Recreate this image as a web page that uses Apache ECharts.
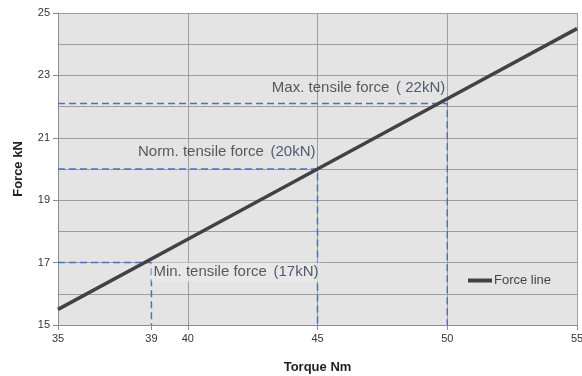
<!DOCTYPE html>
<html><head><meta charset="utf-8">
<script src="https://cdn.jsdelivr.net/npm/echarts@6/dist/echarts.min.js"></script>
<style>html,body{margin:0;padding:0;background:#fff}#c{width:582px;height:376px}</style>
</head><body><div id="c"></div>
<script>
const torque = [35, 40, 45, 50, 55];
const force = [15.5, 17.75, 20, 22.25, 24.5];
const xTickValues = [35, 38.6, 40, 45, 50, 55];
const xTickLabels = ['35', '39', '40', '45', '50', '55'];
const yTickLabels = [15, 17, 19, 21, 23, 25];
const minPath = [[35, 17], [38.6, 17], [38.6, 15]];
const normPath = [[35, 20], [45, 20], [45, 15]];
const maxPath = [[35, 22.1], [50, 22.1], [50, 15]];
const labelNames = ['Min. tensile force', 'Norm. tensile force', 'Max. tensile force'];
const labelValues = ['(17kN)', '(20kN)', '( 22kN)'];
const labelAnchors = [[38.6, 16.7], [45, 20.55], [50, 22.6]];

const FONT = '"Liberation Sans", Arial, sans-serif';
const chart = echarts.init(document.getElementById('c'));
const dashStyle = {color: '#4a72c2', width: 1.5, type: [7, 4]};
function dashSeries(path) {
  return {type: 'line', data: path, symbol: 'none', silent: true, lineStyle: dashStyle, z: 3, animation: false};
}
function labelSeries(i) {
  const right = i !== 0;
  return {
    type: 'scatter', symbolSize: 0, silent: true, z: 6, animation: false,
    data: [labelAnchors[i]],
    label: {
      show: true, position: right ? 'left' : 'right', distance: 0,
      formatter: '{a|' + labelNames[i] + '}  {b|' + labelValues[i] + '}',
      backgroundColor: i === 0 ? '#e9e9e9' : 'transparent',
      padding: [2, 2],
      rich: {
        a: {fontFamily: FONT, fontSize: 15, color: '#333'},
        b: {fontFamily: FONT, fontSize: 15, color: '#2b3550'}
      }
    }
  };
}
chart.setOption({
  animation: false,
  grid: {left: 58, right: 5, top: 13, bottom: 51, show: true, backgroundColor: '#e4e4e4', borderWidth: 0,
    outerBoundsMode: 'none', containLabel: false},
  legend: {
    data: ['Force line'], left: 468, top: 274, itemWidth: 24, itemHeight: 4, itemGap: 0, padding: 0,
    icon: 'rect',
    textStyle: {fontFamily: FONT, fontSize: 13, color: '#444', padding: [0, 0, 0, -3]}
  },
  xAxis: [{
    type: 'value', min: 35, max: 55, interval: 5,
    axisLine: {show: true, lineStyle: {color: '#8c8c8c', width: 1}},
    axisTick: {show: false}, axisLabel: {show: false},
    splitLine: {show: true, lineStyle: {color: '#9e9e9e', width: 1}},
    name: 'Torque Nm', nameLocation: 'middle', nameGap: 36,
    nameTextStyle: {fontFamily: FONT, fontWeight: 'bold', fontSize: 13, color: '#222'}
  }, {
    type: 'value', min: 35, max: 55, position: 'bottom',
    axisLine: {show: false},
    axisTick: {show: true, customValues: xTickValues, length: 5, lineStyle: {color: '#8c8c8c'}},
    axisLabel: {customValues: xTickValues, fontFamily: FONT, fontSize: 11, color: '#333', margin: 8,
      formatter: v => xTickLabels[xTickValues.indexOf(v)]},
    splitLine: {show: false}
  }],
  yAxis: {
    type: 'value', min: 15, max: 25, interval: 2,
    axisLine: {show: true, lineStyle: {color: '#8c8c8c'}},
    axisTick: {show: true, length: 5, lineStyle: {color: '#8c8c8c'}},
    axisLabel: {fontFamily: FONT, fontSize: 11, color: '#333', margin: 8,
      formatter: v => yTickLabels.includes(v) ? String(v) : ''},
    splitLine: {show: true, lineStyle: {color: '#9e9e9e', width: 1}},
    minorTick: {show: false, splitNumber: 2},
    minorSplitLine: {show: true, lineStyle: {color: '#9e9e9e', width: 1}},
    name: 'Force kN', nameLocation: 'middle', nameGap: 33,
    nameTextStyle: {fontFamily: FONT, fontWeight: 'bold', fontSize: 13, color: '#222'}
  },
  series: [
    dashSeries(minPath), dashSeries(normPath), dashSeries(maxPath),
    {
      name: 'Force line', type: 'line', symbol: 'none', z: 5,
      data: torque.map((t, i) => [t, force[i]]),
      lineStyle: {color: '#424242', width: 3.5}, itemStyle: {color: '#424242'}
    },
    labelSeries(0), labelSeries(1), labelSeries(2)
  ]
});
</script></body></html>
